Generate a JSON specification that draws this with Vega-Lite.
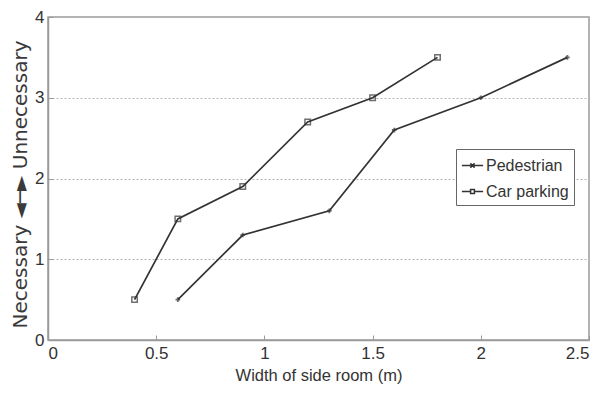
{
  "$schema": "https://vega.github.io/schema/vega-lite/v6.json",
  "width": 541,
  "height": 323,
  "autosize": {"type": "none"},
  "padding": {"left": 48, "top": 17, "right": 20, "bottom": 54},
  "background": "white",
  "config": {
    "font": "Liberation Sans",
    "view": {"stroke": "#9a9a9a", "strokeWidth": 1.5},
    "axis": {
      "domainColor": "#9a9a9a",
      "domainWidth": 1.5,
      "tickColor": "#9a9a9a",
      "labelFont": "Liberation Sans",
      "titleFont": "Liberation Sans",
      "labelColor": "#333",
      "titleColor": "#333",
      "titleFontWeight": "normal",
      "labelFontSize": 17,
      "titleFontSize": 16.5
    },
    "legend": {
      "labelFont": "Liberation Sans",
      "labelFontSize": 16,
      "labelColor": "#333"
    }
  },
  "data": {
    "values": [
      {"series": "Pedestrian", "x": 0.6, "y": 0.5},
      {"series": "Pedestrian", "x": 0.9, "y": 1.3},
      {"series": "Pedestrian", "x": 1.3, "y": 1.6},
      {"series": "Pedestrian", "x": 1.6, "y": 2.6},
      {"series": "Pedestrian", "x": 2.0, "y": 3.0},
      {"series": "Pedestrian", "x": 2.4, "y": 3.5},
      {"series": "Car parking", "x": 0.4, "y": 0.5},
      {"series": "Car parking", "x": 0.6, "y": 1.5},
      {"series": "Car parking", "x": 0.9, "y": 1.9},
      {"series": "Car parking", "x": 1.2, "y": 2.7},
      {"series": "Car parking", "x": 1.5, "y": 3.0},
      {"series": "Car parking", "x": 1.8, "y": 3.5}
    ]
  },
  "encoding": {
    "x": {
      "field": "x", "type": "quantitative",
      "scale": {"domain": [0, 2.5], "nice": false},
      "axis": {
        "values": [0, 0.5, 1, 1.5, 2, 2.5],
        "format": "~g",
        "title": "Width of side room (m)",
        "tickSize": -5,
        "labelPadding": 10,
        "titlePadding": 6,
        "grid": false
      }
    },
    "y": {
      "field": "y", "type": "quantitative",
      "scale": {"domain": [0, 4], "nice": false},
      "axis": {
        "values": [0, 1, 2, 3, 4],
        "title": "Necessary ◄─► Unnecessary",
        "titleFont": "DejaVu Sans",
        "titleFontSize": 20,
        "titleColor": "#3a3a3a",
        "titleY": 167,
        "tickSize": -5,
        "labelPadding": 9,
        "titlePadding": 4,
        "grid": true,
        "gridColor": "#b5b5b5",
        "gridDash": [2, 2],
        "gridWidth": 1
      }
    }
  },
  "layer": [
    {
      "mark": {"type": "line", "strokeWidth": 1.7},
      "encoding": {
        "color": {
          "field": "series", "type": "nominal",
          "sort": ["Pedestrian", "Car parking"],
          "scale": {"domain": ["Pedestrian", "Car parking"], "range": ["#333333", "#333333"]},
          "legend": {
            "title": null,
            "orient": "none",
            "legendX": 408,
            "legendY": 132,
            "strokeColor": "#666",
            "fillColor": "white",
            "padding": 5,
            "symbolSize": 450,
            "symbolStrokeWidth": 1.5,
            "rowPadding": 6,
            "labelOffset": 2,
            "encode": {
              "symbols": {
                "update": {
                  "shape": {"signal": "datum.value === 'Pedestrian' ? 'M-1,0H1M-0.2,-0.2L0.2,0.2M-0.2,0.2L0.2,-0.2' : 'M-1,0H-0.18M0.18,0H1M-0.18,-0.18H0.18V0.18H-0.18Z'"},
                  "fill": {"value": "transparent"},
                  "stroke": {"value": "#333"}
                }
              }
            }
          }
        }
      }
    },
    {
      "transform": [{"filter": "datum.series === 'Pedestrian'"}],
      "mark": {"type": "point", "shape": "cross", "filled": true, "color": "#333", "size": 22}
    },
    {
      "transform": [{"filter": "datum.series === 'Car parking'"}],
      "mark": {"type": "point", "shape": "square", "filled": false, "color": "#333", "strokeWidth": 1.5, "size": 30}
    }
  ]
}
